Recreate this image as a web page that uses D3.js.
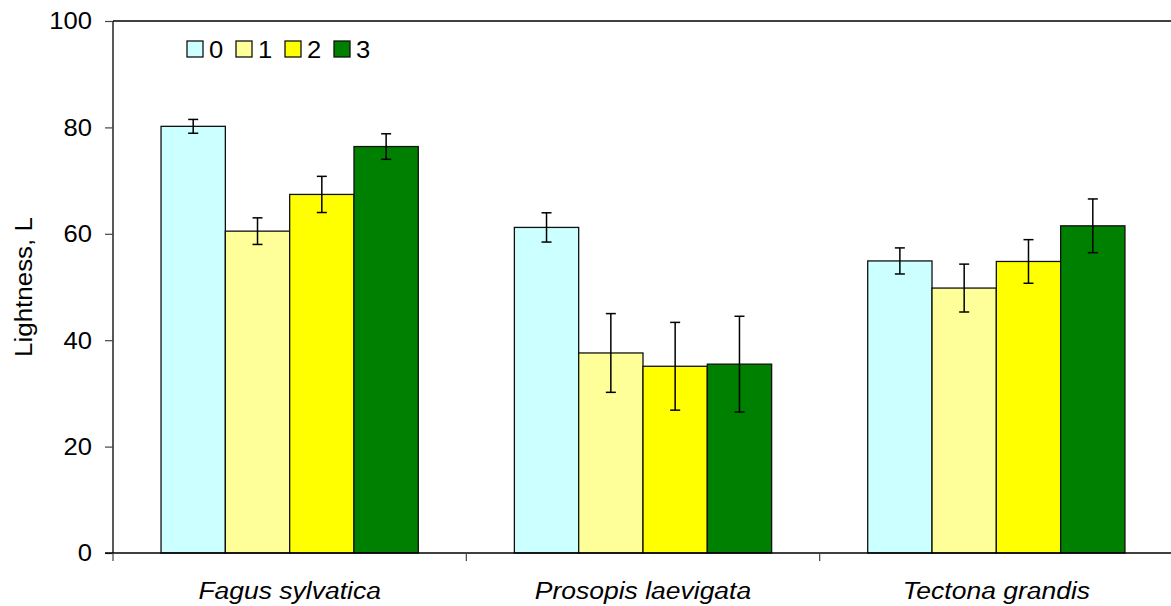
<!DOCTYPE html>
<html>
<head>
<meta charset="utf-8">
<script src="https://cdn.jsdelivr.net/npm/d3@7"></script>
<style>
  html, body { margin: 0; padding: 0; background: #fff; }
  svg { display: block; }
  text { font-family: "Liberation Sans", Arial, sans-serif; fill: #000; }
</style>
</head>
<body>
<svg id="chart" width="1171" height="606"></svg>
<script>
// Wood species on the x axis, treatment levels 0–3 as grouped bars
const species = ["Fagus sylvatica", "Prosopis laevigata", "Tectona grandis"];
const levels = ["0", "1", "2", "3"];
const levelColors = ["#CCFFFF", "#FFFF99", "#FFFF00", "#008000"];

// Mean lightness L per species, one entry per level
const meanFagus = [80.2, 60.5, 67.4, 76.4];
const meanProsopis = [61.2, 37.6, 35.1, 35.5];
const meanTectona = [54.9, 49.8, 54.8, 61.5];

// Error bar half-widths (±)
const errFagus = [1.3, 2.5, 3.4, 2.4];
const errProsopis = [2.75, 7.4, 8.25, 9.0];
const errTectona = [2.45, 4.5, 4.1, 5.05];

const yTicks = [0, 20, 40, 60, 80, 100];

const means = [meanFagus, meanProsopis, meanTectona];
const errs = [errFagus, errProsopis, errTectona];

const rows = [];
species.forEach((sp, i) => {
  levels.forEach((lv, j) => {
    rows.push({ species: sp, level: lv, value: means[i][j], err: errs[i][j], color: levelColors[j] });
  });
});

const svg = d3.select("#chart");
const plotL = 113, plotR = 1173, plotT = 21, plotB = 553;
const sx = 1.09; // horizontal stretch of the label glyphs

const x = d3.scaleBand().domain(species).range([plotL, plotR]).padding(0);
const xi = d3.scaleBand().domain(levels).range([0, x.bandwidth()]).paddingInner(0).paddingOuter(0.747);
const y = d3.scaleLinear().domain([0, 100]).range([plotB, plotT]);

// top border of the plot area
svg.append("line")
  .attr("x1", plotL).attr("x2", plotR)
  .attr("y1", y(100)).attr("y2", y(100))
  .attr("stroke", "#000").attr("stroke-width", 1.3);

// bars
svg.append("g").selectAll("rect").data(rows).join("rect")
  .attr("x", d => x(d.species) + xi(d.level))
  .attr("y", d => y(d.value))
  .attr("width", xi.bandwidth())
  .attr("height", d => y(0) - y(d.value))
  .attr("fill", d => d.color)
  .attr("stroke", "#111")
  .attr("stroke-width", 1.3);

// error bars
const eb = svg.append("g").attr("stroke", "#000").attr("stroke-width", 1.5);
rows.forEach(d => {
  const cx = x(d.species) + xi(d.level) + xi.bandwidth() / 2;
  const y1 = y(d.value + d.err), y2 = y(d.value - d.err);
  eb.append("line").attr("x1", cx).attr("x2", cx).attr("y1", y1).attr("y2", y2);
  eb.append("line").attr("x1", cx - 5).attr("x2", cx + 5).attr("y1", y1).attr("y2", y1);
  eb.append("line").attr("x1", cx - 5).attr("x2", cx + 5).attr("y1", y2).attr("y2", y2);
});

// y axis
const yAxis = svg.append("g").attr("transform", `translate(${plotL},0)`)
  .call(d3.axisLeft(y).tickValues(yTicks).tickSize(8).tickPadding(0).tickFormat(d3.format("d")));
yAxis.select(".domain").attr("stroke", "#000").attr("stroke-width", 1.3).attr("d", `M0,${plotT}V${plotB}`);
yAxis.selectAll(".tick line").attr("stroke", "#444").attr("stroke-width", 1.2);
yAxis.selectAll(".tick text").remove();
yTicks.forEach(t => {
  svg.append("text")
    .attr("transform", `translate(92,${y(t)}) scale(${sx},1)`)
    .attr("text-anchor", "end").attr("dy", "0.36em")
    .attr("font-size", 23.5)
    .text(t);
});

// x axis
const xAxis = svg.append("g").attr("transform", `translate(0,${plotB})`);
xAxis.append("line").attr("x1", plotL - 8).attr("x2", plotR).attr("y1", 0).attr("y2", 0)
  .attr("stroke", "#000").attr("stroke-width", 1.3);
species.map(sp => x(sp)).concat([plotR]).forEach(px => {
  xAxis.append("line").attr("x1", px).attr("x2", px).attr("y1", 0).attr("y2", 8)
    .attr("stroke", "#444").attr("stroke-width", 1.2);
});
species.forEach(sp => {
  svg.append("text")
    .attr("transform", `translate(${x(sp) + x.bandwidth() / 2},599) scale(${sx},1)`)
    .attr("text-anchor", "middle")
    .attr("font-size", 24.3).attr("font-style", "italic")
    .text(sp);
});

// y axis title
svg.append("text")
  .attr("transform", `translate(32,287) rotate(-90) scale(${sx},1)`)
  .attr("text-anchor", "middle")
  .attr("font-size", 23.8)
  .text("Lightness, L");

// legend
const legendX = [187, 236, 285, 334];
const lg = svg.append("g");
levels.forEach((lv, j) => {
  lg.append("rect").attr("x", legendX[j]).attr("y", 41).attr("width", 16).attr("height", 16)
    .attr("fill", levelColors[j]).attr("stroke", "#111").attr("stroke-width", 1.3);
  lg.append("text")
    .attr("transform", `translate(${legendX[j] + 22},57.5) scale(${sx},1)`)
    .attr("font-size", 23.5)
    .text(lv);
});
</script>
</body>
</html>
